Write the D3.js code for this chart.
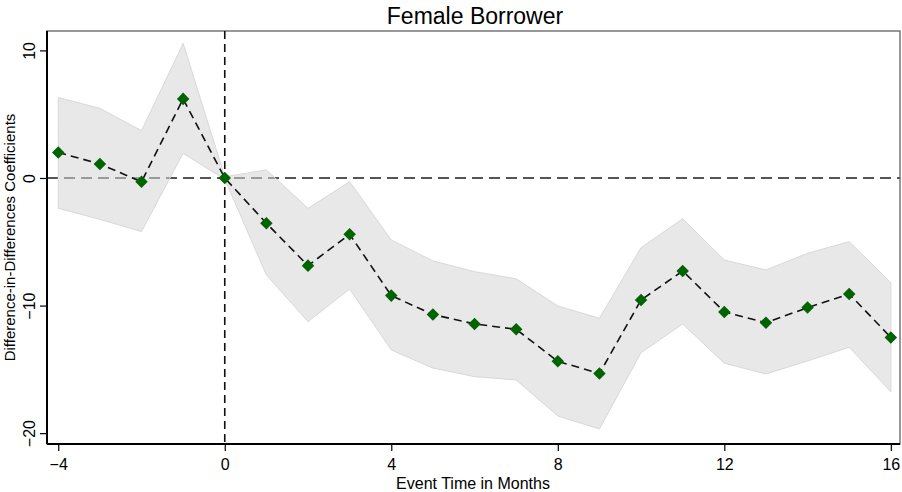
<!DOCTYPE html>
<html><head><meta charset="utf-8">
<script src="https://cdn.jsdelivr.net/npm/d3@7"></script>
<style>body{margin:0;background:#fff}svg{display:block}text{font-family:"Liberation Sans",Arial,sans-serif}</style>
</head><body><svg id="c" width="902" height="492"></svg>
<script>
const months = [-4,-3,-2,-1,0,1,2,3,4,5,6,7,8,9,10,11,12,13,14,15,16];
const coef  = [2.0,1.1,-0.3,6.2,0,-3.55,-6.87,-4.41,-9.22,-10.7,-11.44,-11.86,-14.37,-15.33,-9.56,-7.29,-10.5,-11.34,-10.16,-9.09,-12.5];
const upper = [6.3,5.46,3.71,10.55,0.1,0.63,-2.38,-0.29,-4.86,-6.5,-7.34,-7.9,-10.03,-11.0,-5.46,-3.2,-6.43,-7.21,-5.9,-4.99,-8.2];
const lower = [-2.38,-3.24,-4.2,1.93,-0.1,-7.6,-11.26,-8.7,-13.48,-14.9,-15.57,-15.83,-18.65,-19.67,-13.69,-11.44,-14.52,-15.36,-14.34,-13.27,-16.75];
const xTicks = [-4,0,4,8,12,16];
const yTicks = [-20,-10,0,10];
const title = "Female Borrower";
const xTitle = "Event Time in Months";
const yTitle = "Difference-in-Differences Coefficients";

const L=47,R=900,T=31,B=444;
const svg=d3.select("#c");
const x=d3.scaleLinear().domain([-4.27,16.22]).range([L,R]);
const y=d3.scaleLinear().domain([-20.85,11.52]).range([B,T]);
const data=months.map((m,i)=>({m,c:coef[i],u:upper[i],l:lower[i]}));

// frame
svg.append("rect").attr("x",L).attr("y",T).attr("width",R-L).attr("height",B-T)
  .attr("fill","none").attr("stroke","#777").attr("stroke-width",1.5);

// zero line
svg.append("line").attr("x1",L).attr("x2",R).attr("y1",y(0)).attr("y2",y(0))
  .attr("stroke","#555").attr("stroke-width",2).attr("stroke-dasharray","11,6");

// band
svg.append("path").datum(data)
  .attr("d",d3.area().x(d=>x(d.m)).y0(d=>y(d.l)).y1(d=>y(d.u)))
  .attr("fill","#d4d4d4").attr("fill-opacity",0.54)
  .attr("stroke","#d8d8d8").attr("stroke-width",1);

// vertical line at 0
svg.append("line").attr("x1",x(0)).attr("x2",x(0)).attr("y1",T).attr("y2",B)
  .attr("stroke","#111").attr("stroke-width",1.6).attr("stroke-dasharray","8,5");

// connecting line
svg.append("path").datum(data)
  .attr("d",d3.line().x(d=>x(d.m)).y(d=>y(d.c)))
  .attr("fill","none").attr("stroke","#111").attr("stroke-width",1.6).attr("stroke-dasharray","8,5");

// markers
svg.selectAll(".pt").data(data).enter().append("path").attr("class","pt")
  .attr("d",d3.symbol().type(d3.symbolDiamond2).size(100))
  .attr("transform",d=>`translate(${x(d.m)},${y(d.c)})`)
  .attr("fill","#006400");

// axes
const xa=svg.append("g").attr("transform",`translate(0,${B})`)
  .call(d3.axisBottom(x).tickValues(xTicks).tickSize(7).tickPadding(4));
const ya=svg.append("g").attr("transform",`translate(${L},0)`)
  .call(d3.axisLeft(y).tickValues(yTicks).tickSize(7).tickPadding(4));
[xa,ya].forEach(g=>{g.select(".domain").attr("stroke","#000").attr("stroke-width",2);
  g.selectAll(".tick line").attr("stroke","#000").attr("stroke-width",1.2);
  g.selectAll("text").attr("font-size",16).attr("fill","#000").style("font-family","'Liberation Sans',Arial,sans-serif");});
xa.select(".domain").attr("d",`M${L},0H${R}`);
ya.select(".domain").attr("d",`M0,${T}V${B}`);
ya.selectAll(".tick text").attr("x",null).attr("dy",null)
  .attr("text-anchor","middle").attr("transform","translate(-12,0) rotate(-90)");
xa.selectAll(".tick text").attr("dy","0.95em");

// titles
svg.append("text").attr("x",475).attr("y",24).attr("text-anchor","middle")
  .attr("font-size",23).attr("fill","#000").text(title);
svg.append("text").attr("x",473).attr("y",489).attr("text-anchor","middle")
  .attr("font-size",16).attr("fill","#000").text(xTitle);
svg.append("text").attr("transform",`translate(15,${(T+B)/2}) rotate(-90)`).attr("text-anchor","middle")
  .attr("font-size",15).attr("fill","#000").text(yTitle);
</script></body></html>
